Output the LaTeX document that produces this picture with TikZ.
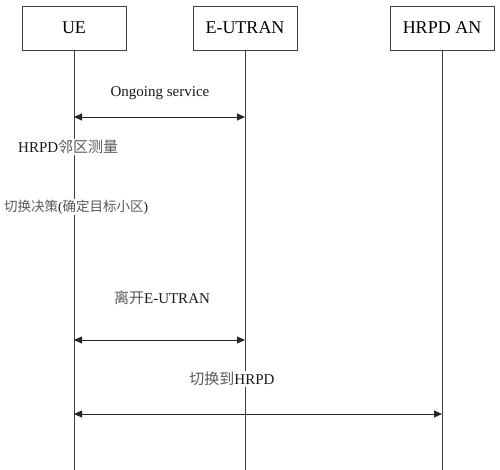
\documentclass[tikz,border=0pt]{standalone}
\usepackage{fontspec}
\setmainfont{Liberation Serif}
\newfontfamily\cjk{Noto Sans CJK SC}
\usetikzlibrary{positioning,arrows.meta}

\begin{document}
\begin{tikzpicture}[x=1pt,y=-1pt,
ent/.style={draw=black!75,line width=0.8pt,minimum width=104pt,minimum height=44pt,inner sep=0pt,font=\fontsize{18}{20}\selectfont},
life/.style={draw=black!75,line width=0.8pt},
msg/.style={{Triangle[length=8pt,width=7pt]}-{Triangle[length=8pt,width=7pt]},line width=0.9pt,black!85},
lbl/.style={fill=white,inner sep=1pt,font=\fontsize{15}{17}\selectfont,text=black!90}]
\useasboundingbox (0,0) rectangle (500,470);
% entities
\node[ent] (ue) at (74,28) {UE};
\node[ent] (enb) at (245,28) {E-UTRAN};
\node[ent] (hrpd) at (442,28) {HRPD AN};
\coordinate (ueend) at (74,470);
\coordinate (enbend) at (245,470);
\coordinate (hrpdend) at (442,470);
\draw[life] (ue) -- (ueend);
\draw[life] (enb) -- (enbend);
\draw[life] (hrpd) -- (hrpdend);
% messages
\coordinate (m1a) at (74,117);
\coordinate (m1b) at (245,117);
\coordinate (m2a) at (74,340);
\coordinate (m2b) at (245,340);
\coordinate (m3a) at (74,414);
\coordinate (m3b) at (442,414);
\draw[msg] (m1a) -- (m1b);
\draw[msg] (m2a) -- (m2b);
\draw[msg] (m3a) -- (m3b);
\node[lbl] (svc) at (160,93) {Ongoing service};
\node[lbl,anchor=west] (meas) at (17,147) {HRPD{\cjk\color{black!65}邻区测量}};
\node[lbl,anchor=west,font=\fontsize{13.5}{16}\selectfont] (dec) at (3,207) {{\cjk\color{black!65}切换决策}({\cjk\color{black!65}确定目标小区})};
\node[lbl] (leave) at (162,298) {{\cjk\color{black!65}离开}E-UTRAN};
\node[lbl] (ho) at (232,379) {{\cjk\color{black!65}切换到}HRPD};
\end{tikzpicture}
\end{document}
